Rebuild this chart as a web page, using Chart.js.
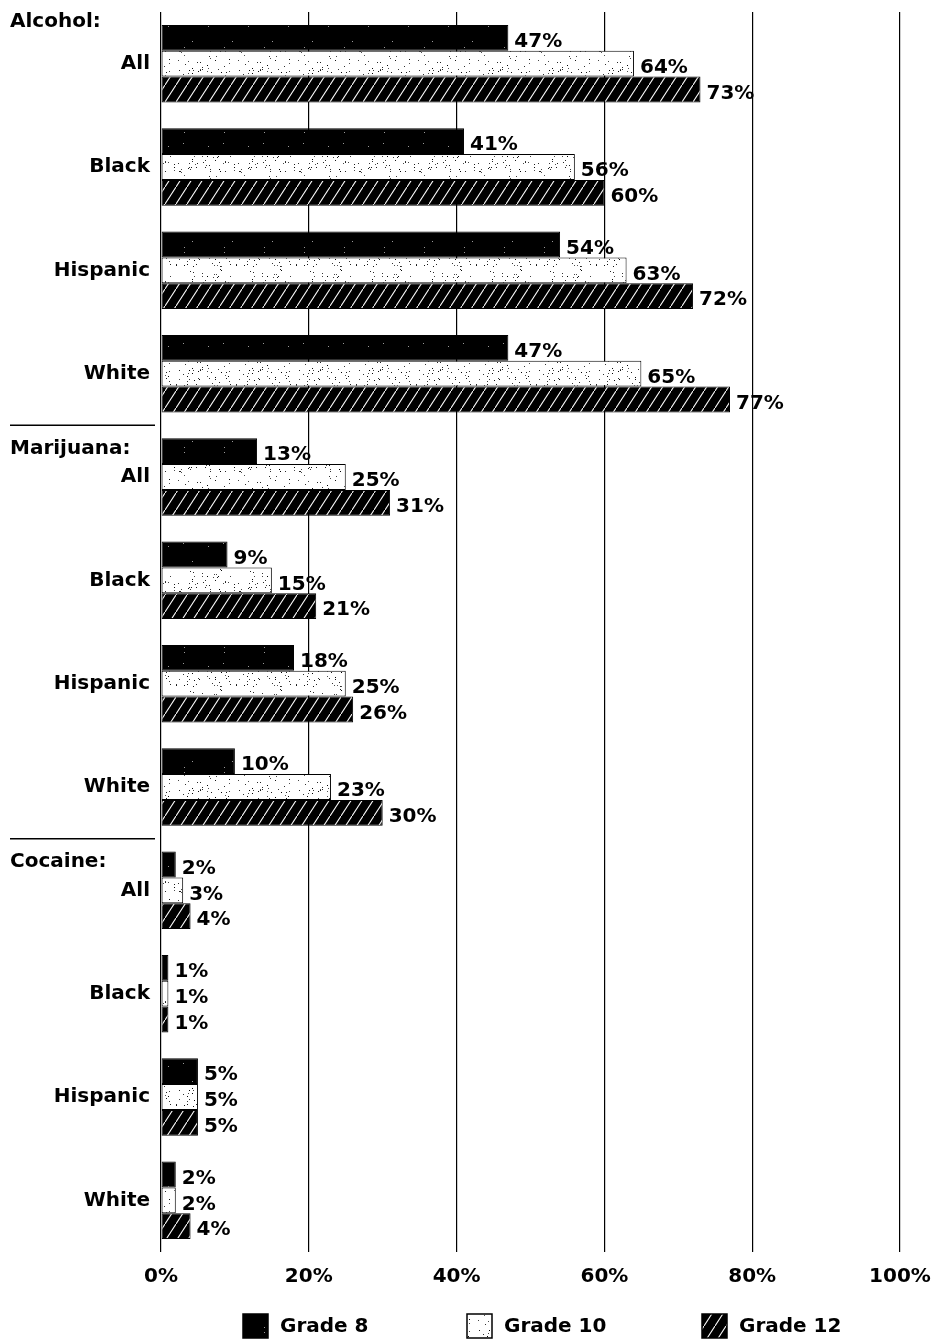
<!DOCTYPE html>
<html>
<head>
<meta charset="utf-8">
<script src="https://cdn.jsdelivr.net/npm/chart.js@4"></script>
<style>
html, body { margin: 0; padding: 0; background: #fff; }
</style>
</head>
<body>
<canvas id="myChart" width="933" height="1342"></canvas>
<script>
// data
const drugs = ['Alcohol:', 'Marijuana:', 'Cocaine:'];
const groups = ['All', 'Black', 'Hispanic', 'White'];
const categories = [
    'All', 'Black', 'Hispanic', 'White',
    'All', 'Black', 'Hispanic', 'White',
    'All', 'Black', 'Hispanic', 'White'
];
const grade8 = [47, 41, 54, 47, 13, 9, 18, 10, 2, 1, 5, 2];
const grade10 = [64, 56, 63, 65, 25, 15, 25, 23, 3, 1, 5, 2];
const grade12 = [73, 60, 72, 77, 31, 21, 26, 30, 4, 1, 5, 4];
const seriesNames = ['Grade 8', 'Grade 10', 'Grade 12'];

const FONT = '"DejaVu Sans", sans-serif';

// simple hash so the speckle texture is the same every run
function hash(k) {
    let h = Math.imul(k ^ 0x5bd1e995, 0x27d4eb2d);
    h ^= h >>> 15;
    h = Math.imul(h, 0x165667b1);
    h ^= h >>> 13;
    return (h >>> 0) / 4294967296;
}

// fill patterns for the bars
function makePattern(kind) {
    const c = document.createElement('canvas');
    const p = c.getContext('2d');
    if (kind === 'dark') {
        c.width = 40; c.height = 40;
        p.fillStyle = '#000';
        p.fillRect(0, 0, 40, 40);
        p.fillStyle = '#999';
        for (let k = 0; k < 5; k++) {
            p.fillRect(Math.floor(hash(k * 2 + 1) * 40), Math.floor(hash(k * 2 + 2) * 40), 1, 1);
        }
    } else if (kind === 'speckle') {
        c.width = 60; c.height = 60;
        p.fillStyle = '#fff';
        p.fillRect(0, 0, 60, 60);
        for (let k = 0; k < 110; k++) {
            const g = Math.floor(hash(k * 3 + 300) * 90);
            p.fillStyle = 'rgb(' + g + ',' + g + ',' + g + ')';
            p.fillRect(Math.floor(hash(k * 3 + 100) * 60), Math.floor(hash(k * 3 + 200) * 60), 1, 1);
        }
    } else {
        c.width = 11; c.height = 17;
        p.fillStyle = '#000';
        p.fillRect(0, 0, 11, 17);
        p.strokeStyle = '#fff';
        p.lineWidth = 1.1;
        p.beginPath();
        p.moveTo(-1, 18.5);
        p.lineTo(12, -1.5);
        p.stroke();
    }
    return p.createPattern(c, 'repeat');
}

const fills = [makePattern('dark'), makePattern('speckle'), makePattern('hatch')];

// value labels, section titles and legend
const extras = {
    id: 'extras',
    afterDatasetsDraw(chart) {
        const ctx = chart.ctx;
        ctx.save();
        ctx.font = 'bold 20px ' + FONT;
        ctx.fillStyle = '#000';
        ctx.textAlign = 'left';
        ctx.textBaseline = 'middle';
        chart.data.datasets.forEach((ds, i) => {
            chart.getDatasetMeta(i).data.forEach((bar, j) => {
                ctx.fillText(ds.data[j] + '%', bar.x + 6, bar.y + 4);
            });
        });
        ctx.restore();
    },
    afterDraw(chart) {
        const ctx = chart.ctx;
        const y = chart.scales.y;
        const band = y.getPixelForValue(1) - y.getPixelForValue(0);
        ctx.save();
        ctx.fillStyle = '#000';
        ctx.strokeStyle = '#000';
        ctx.font = 'bold 20px ' + FONT;
        ctx.textBaseline = 'middle';
        ctx.textAlign = 'left';
        drugs.forEach((name, i) => {
            const top = y.getPixelForValue(i * groups.length) - band / 2;
            if (i > 0) {
                ctx.lineWidth = 1.5;
                ctx.beginPath();
                ctx.moveTo(10, top);
                ctx.lineTo(155, top);
                ctx.stroke();
            }
            ctx.fillText(name, 10, i === 0 ? 22 : top + 23);
        });

        // legend
        const lx = [243, 467, 702];
        const ly = 1326;
        chart.data.datasets.forEach((ds, i) => {
            ctx.fillStyle = ds.backgroundColor;
            ctx.fillRect(lx[i], ly - 12, 25, 24);
            ctx.lineWidth = 1.5;
            ctx.strokeRect(lx[i], ly - 12, 25, 24);
            ctx.fillStyle = '#000';
            ctx.fillText(ds.label, lx[i] + 37, ly + 1);
        });
        ctx.restore();
    }
};

const ctx = document.getElementById('myChart').getContext('2d');

const chart = new Chart(ctx, {
    type: 'bar',
    data: {
        labels: categories,
        datasets: [grade8, grade10, grade12].map((vals, i) => ({
            label: seriesNames[i],
            data: vals,
            backgroundColor: fills[i],
            borderColor: '#000',
            borderWidth: 1,
            borderSkipped: false,
            categoryPercentage: 0.75,
            barPercentage: 1.0
        }))
    },
    options: {
        indexAxis: 'y',
        responsive: false,
        animation: false,
        layout: { padding: { top: 12, right: 33, bottom: 0, left: 0 } },
        plugins: {
            legend: { display: false },
            tooltip: { enabled: false }
        },
        scales: {
            x: {
                min: 0,
                max: 100,
                ticks: {
                    stepSize: 20,
                    padding: 13,
                    color: '#000',
                    font: { family: FONT, size: 20, weight: 'bold' },
                    callback: v => v + '%'
                },
                grid: { color: '#000', lineWidth: 1.2, drawTicks: false },
                border: { display: false },
                afterFit: s => {
                    s.height = 90;
                    s.paddingLeft = 0;
                    s.paddingRight = 0;
                }
            },
            y: {
                ticks: {
                    padding: 11,
                    color: '#000',
                    font: { family: FONT, size: 20, weight: 'bold' }
                },
                grid: { display: false, drawTicks: false },
                border: { display: false },
                afterFit: s => {
                    s.width = 161;
                    s.paddingTop = 0;
                    s.paddingBottom = 0;
                }
            }
        }
    },
    plugins: [extras]
});
</script>
</body>
</html>
